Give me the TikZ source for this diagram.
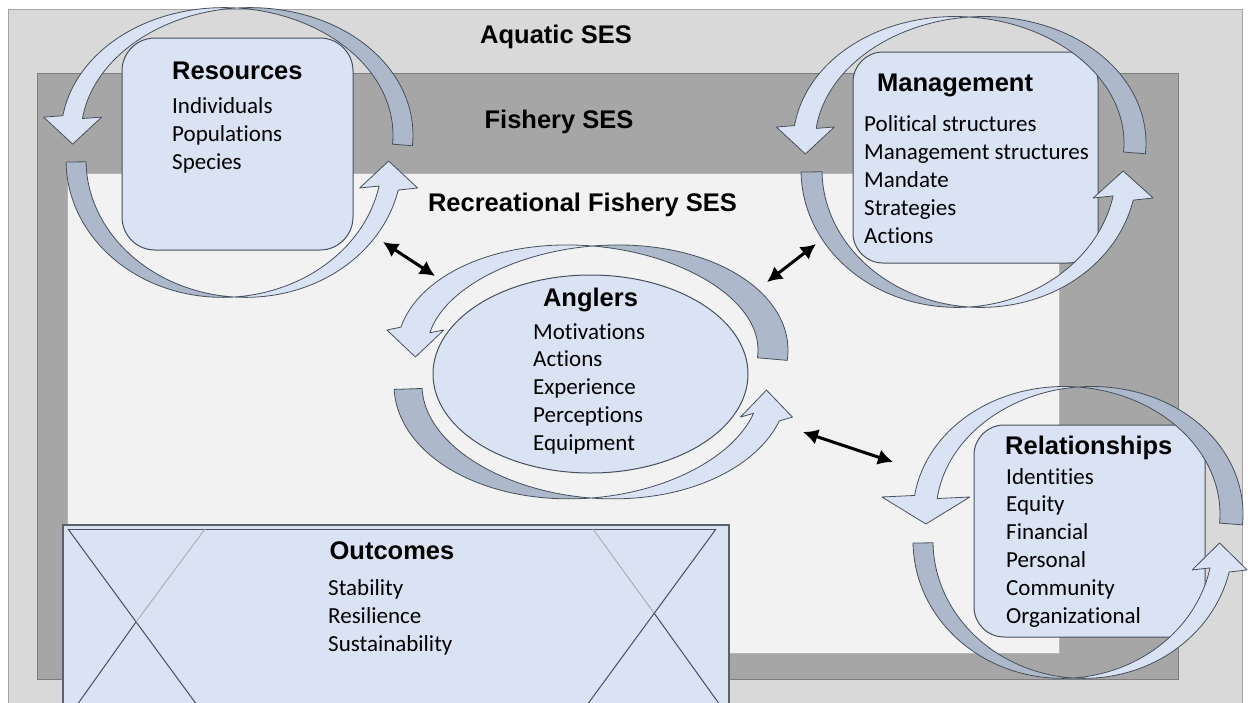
\documentclass[tikz,border=0pt]{standalone}
\usepackage{fontspec}
\setmainfont{Carlito}[Ligatures=NoCommon]
\newfontfamily\headfont{Liberation Sans}
\usetikzlibrary{calc,arrows.meta,shapes.geometric}

\definecolor{aquatic}{HTML}{D9D9D9}
\definecolor{fishery}{HTML}{A6A6A6}
\definecolor{recfish}{HTML}{F2F2F2}
\definecolor{panelblue}{HTML}{DAE3F3}
\definecolor{ribbonback}{HTML}{ADB9CA}
\definecolor{outline}{HTML}{46505C}

\tikzset{
 layer/.style={draw=#1!75!black, fill=#1, line width=0.8pt},
 panel/.style={draw=outline, fill=panelblue, line width=1pt, inner sep=0pt},
 heading/.style={inner sep=0pt, anchor=base, font=\headfont\bfseries\fontsize{25.5}{30}\selectfont},
 entry/.style={inner sep=0pt, anchor=base west, font=\fontsize{23}{28}\selectfont},
 ringback/.style={fill=ribbonback, draw=outline, line width=0.8pt, line join=round},
 ringfront/.style={fill=panelblue, draw=outline, line width=0.8pt, line join=round},
 twoway/.style={line width=3pt, {Latex[length=15pt,width=16pt]}-{Latex[length=15pt,width=16pt]}},
}

% half of a circular arrow: a twisted ribbon along an ellipse
% #1,#2 centre  #3,#4 radii  #5 half width  #6 tail  #7 twist  #8 head (angles)  #9 head half width
\newcommand{\ringarrow}[9]{%
 \path ({#1+(#3+#5*sin(#8-#7))*cos(#8)}, {#2-(#4+#5*sin(#8-#7))*sin(#8)}) coordinate (ea)
       ({#1+(#3-#5*sin(#8-#7))*cos(#8)}, {#2-(#4-#5*sin(#8-#7))*sin(#8)}) coordinate (eb)
       ({#1+#3*cos(#8)}, {#2-#4*sin(#8)}) coordinate (ec);
 % back side
 \filldraw[ringback]
   plot[domain=#6:#7, samples=50, variable=\t]
     ({#1+(#3+#5*sin(\t-#7))*cos(\t)}, {#2-(#4+#5*sin(\t-#7))*sin(\t)})
   -- plot[domain=#7:#6, samples=50, variable=\t]
     ({#1+(#3-#5*sin(\t-#7))*cos(\t)}, {#2-(#4-#5*sin(\t-#7))*sin(\t)}) -- cycle;
 % front side and head
 \filldraw[ringfront]
   plot[domain=#7:#8, samples=50, variable=\t]
     ({#1+(#3+#5*sin(\t-#7))*cos(\t)}, {#2-(#4+#5*sin(\t-#7))*sin(\t)})
   -- ($(ec)!#9pt!(ea |- ec)$) -- ($(ec)!27pt!90:(ea |- ec)$) -- ($(ec)!#9pt!(eb |- ec)$)
   -- plot[domain=#8:#7, samples=50, variable=\t]
     ({#1+(#3-#5*sin(\t-#7))*cos(\t)}, {#2-(#4-#5*sin(\t-#7))*sin(\t)}) -- cycle;
}

\begin{document}
\begin{tikzpicture}[x=1pt, y=-1pt]
 \useasboundingbox[fill=white] (0,0) rectangle (1250,702);

 % nested systems
 \draw[layer=aquatic] (8,9) rectangle (1242,720);
 \draw[layer=fishery] (37,73) rectangle (1178,679);
 \draw[layer=recfish] (67,173) rectangle (1059,653);
 \node[heading] (aquaticT) at (556,43) {Aquatic SES};
 \node[heading] (fisheryT) at (559,128) {Fishery SES};
 \node[heading] (recT) at (582.5,211) {Recreational Fishery SES};

 % components
 \node[panel, rounded corners=33pt, minimum width=231pt, minimum height=212pt] (res) at (237.5,144) {};
 \node[panel, rounded corners=30pt, minimum width=245pt, minimum height=211pt] (mgmt) at (975.5,157.5) {};
 \node[panel, rounded corners=30pt, minimum width=231pt, minimum height=212pt] (rel) at (1089.5,531) {};
 \node[panel, ellipse, minimum width=315pt, minimum height=198pt] (ang) at (590.5,374) {};

 \node[heading, anchor=base west] (resT) at (172,79) {Resources};
 \foreach \txt [count=\i] in {Individuals, Populations, Species}
  \node[entry] (res-\i) at (172, {85+28*\i}) {\txt};

 \node[heading, anchor=base west] (mgmtT) at (877,91) {Management};
 \foreach \txt [count=\i] in {Political structures, Management structures, Mandate, Strategies, Actions}
  \node[entry] (mgmt-\i) at (864, {103+28*\i}) {\txt};

 \node[heading, anchor=base west] (relT) at (1005,454) {Relationships};
 \foreach \txt [count=\i] in {Identities, Equity, Financial, Personal, Community, Organizational}
  \node[entry] (rel-\i) at (1006, {456.2+27.8*\i}) {\txt};

 \node[heading] (angT) at (590.5,306) {Anglers};
 \foreach \txt [count=\i] in {Motivations, Actions, Experience, Perceptions, Equipment}
  \node[entry] (ang-\i) at (533, {311.25+27.75*\i}) {\txt};

 % circular arrows
 \ringarrow{237}{135}{166}{127}{10}{-4.5}{90}{171.9}{29}
 \ringarrow{234}{160}{158}{137}{10}{180.8}{270}{348.2}{29}
 \ringarrow{969.5}{143}{165.5}{126}{11}{-4.5}{90}{172.7}{29}
 \ringarrow{969}{170}{157.5}{137}{10.5}{180.8}{270}{348.2}{30}
 \ringarrow{592.5}{350}{180.5}{104}{15}{-5}{90}{168.9}{28.5}
 \ringarrow{591}{385}{183}{113}{14}{182}{270}{343.5}{26}
 \ringarrow{1078}{514}{153.5}{127}{11.5}{-4.5}{90}{172.3}{44}
 \ringarrow{1073}{541}{150}{137}{10}{180.8}{270}{347.8}{27.5}

 % outcomes
 \node[panel, draw=outline!90, line width=1.4pt, minimum width=666pt, minimum height=190pt] (out) at (396,620) {};
 \coordinate (oTL) at (68,529);
 \coordinate (oTR) at (716,529);
 \coordinate (oXL) at (136,622);
 \coordinate (oXR) at (654,613);
 \draw[outline, line width=1pt] (oTL) -- (oTR);
 \draw[outline, line width=1pt] (oTL) -- (197,705);
 \draw[outline, line width=1pt] (oTR) -- (587,705);
 \draw[gray!70, line width=0.8pt] (205,529) -- (oXL);
 \draw[gray!70, line width=0.8pt] (593,529) -- (oXR);
 \draw[outline, line width=1pt] (oXL) -- (77,705);
 \draw[outline, line width=1pt] (oXR) -- (720,705);
 \node[heading] (outT) at (392,559) {Outcomes};
 \foreach \txt [count=\i] in {Stability, Resilience, Sustainability}
  \node[entry] (out-\i) at (328, {567+28*\i}) {\txt};

 % interactions
 \coordinate (resA) at (383,242);
 \coordinate (angR) at (435,276);
 \coordinate (mgmtA) at (816,244);
 \coordinate (angM) at (767,282);
 \coordinate (angL) at (803,432);
 \coordinate (relA) at (893,462);
 \draw[twoway] (resA) -- (angR);
 \draw[twoway] (mgmtA) -- (angM);
 \draw[twoway] (angL) -- (relA);
\end{tikzpicture}
\end{document}
